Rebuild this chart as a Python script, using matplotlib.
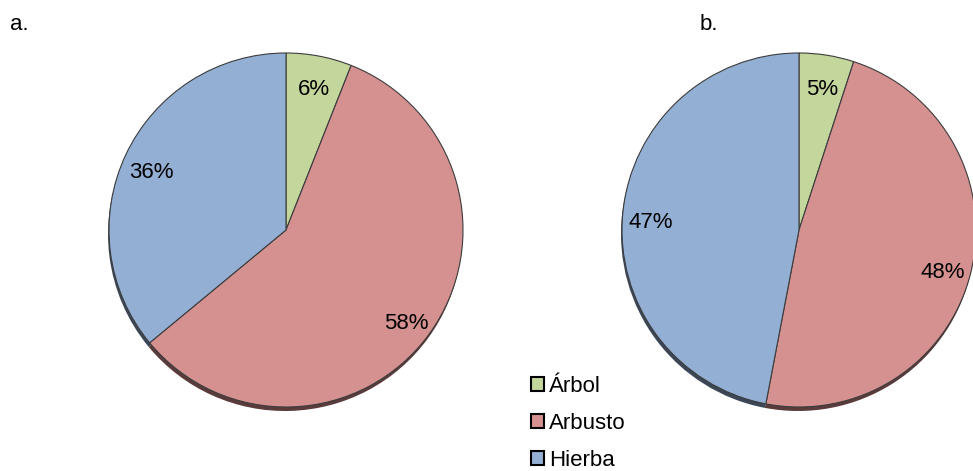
import matplotlib.pyplot as plt
from matplotlib.patches import Patch

plt.rcParams['font.family'] = ['Liberation Sans', 'DejaVu Sans']

categorias = ['Árbol', 'Arbusto', 'Hierba']
valores_a = [6, 58, 36]
valores_b = [5, 48, 47]
paneles = ['a.', 'b.']

colores = ['#c3d69b', '#d49190', '#93afd4']
sombras = ['#4f5a3a', '#5a3b3b', '#3b4656']

W, H = 973, 471
fig = plt.figure(figsize=(W / 100, H / 100), dpi=100)
ax = fig.add_axes([0, 0, 1, 1])

radio = 177
centros = [(286, H - 230), (799, H - 230)]

for valores, (cx, cy) in zip([valores_a, valores_b], centros):
    # sombra inferior (efecto 3d)
    ax.pie(valores, colors=sombras, startangle=90, counterclock=False,
           radius=radio, center=(cx - 1, cy - 4),
           wedgeprops=dict(linewidth=0, zorder=1))
    wedges, textos, autotextos = ax.pie(
        valores, colors=colores, startangle=90, counterclock=False,
        radius=radio, center=(cx, cy), autopct='%1.0f%%', pctdistance=0.84,
        wedgeprops=dict(edgecolor='#3c3c3c', linewidth=0.8, zorder=2),
        textprops=dict(fontsize=16, color='black', zorder=3))
    for t in autotextos:
        x, y = t.get_position()
        t.set_position((x, y - 6))

ax.set_xlim(0, W)
ax.set_ylim(0, H)
ax.axis('off')

fig.text(10 / W, 1 - 25 / H, paneles[0], fontsize=16, va='center', ha='left')
fig.text(700 / W, 1 - 25 / H, paneles[1], fontsize=16, va='center', ha='left')

handles = [Patch(facecolor=c, edgecolor='black', linewidth=1.5) for c in colores]
fig.legend(handles, categorias, loc='upper left', bbox_to_anchor=(520 / W, 1 - 365 / H),
           frameon=False, fontsize=16, handlelength=0.6, handleheight=0.6,
           handletextpad=0.22, labelspacing=0.72, borderpad=0)

plt.savefig('out.png', dpi=100)
